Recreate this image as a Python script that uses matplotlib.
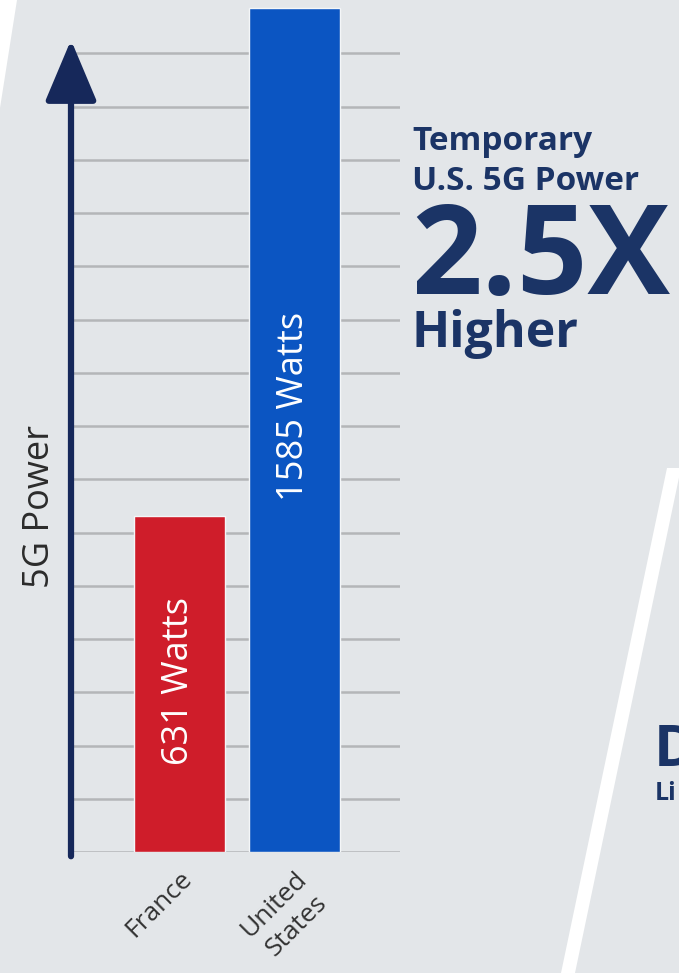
import matplotlib
matplotlib.use("Agg")
import matplotlib.pyplot as plt
from matplotlib.patches import Polygon

countries = ["France", "United\nStates"]
power_watts = [631, 1585]
bar_labels = ["631 Watts", "1585 Watts"]
bar_colors = ["#cf1d2a", "#0b55c2"]
grid_values = list(range(0, 1600, 100))

W, H = 679, 973
bg = "#e3e6e9"
navy = "#1b3466"

fig = plt.figure(figsize=(W / 100, H / 100), dpi=100)
fig.patch.set_facecolor(bg)

# decorative white stripes in the background
def px(x, y):
    return (x / W, 1 - y / H)

for pts in ([(561, 973), (575, 973), (681, 468), (667, 468)],
            [(0, 0), (17, 0), (0, 108)]):
    fig.patches.append(Polygon([px(*p) for p in pts], closed=True,
                               transform=fig.transFigure, facecolor="white",
                               edgecolor="none", zorder=0))

# axes: left edge at arrow (x=71), bottom at y=852
ax = fig.add_axes([71 / W, (H - 852) / H, (400 - 71) / W, 852 / H])
ax.set_facecolor("none")
ax.set_xlim(-0.94, 1.92)
ax.set_ylim(0, 1600)

x = list(range(len(countries)))
bars = ax.bar(x, power_watts, width=0.79, color=bar_colors,
              edgecolor="#f4f6f8", linewidth=1, zorder=3)

label_pos = [0.51, 0.528]
for b, lab, f in zip(bars, bar_labels, label_pos):
    ax.text(b.get_x() + b.get_width() / 2, b.get_height() * f, lab,
            rotation=90, ha="center", va="center", color="white",
            fontsize=26, family="Open Sans", zorder=4)

ax.set_yticks(grid_values)
ax.set_yticklabels([])
ax.tick_params(axis="y", length=0)
ax.grid(axis="y", color="#b4b6b8", linewidth=1.8, zorder=1)
for s in ax.spines.values():
    s.set_visible(False)

ax.set_xticks(x)
ax.set_xticklabels(countries, rotation=45, ha="right", rotation_mode="anchor",
                   fontsize=19, color="#333333", family="Open Sans",
                   multialignment="center", linespacing=1.35)
ax.tick_params(axis="x", length=0, pad=10)

ax.set_ylabel("5G Power", fontsize=26, color="#2b2b2b", family="Open Sans")
ax.yaxis.set_label_coords(-13 / 329, (852 - 506) / 852)

# axis arrow
ax.annotate("", xy=(0, 1525), xytext=(0, -8),
            xycoords=("axes fraction", "data"),
            arrowprops=dict(arrowstyle="-|>,head_width=1.6,head_length=3.8",
                            color="#16285a", lw=4.5, shrinkA=0, shrinkB=0),
            annotation_clip=False, zorder=5)

# callout text
fig.text(412 / W, 1 - 150 / H, "Temporary", fontsize=24, fontweight="bold",
         color=navy, family="Open Sans")
fig.text(412 / W, 1 - 190 / H, "U.S. 5G Power", fontsize=24, fontweight="bold",
         color=navy, family="Open Sans")
fig.text(411 / W, 1 - 294 / H, "2.5X", fontsize=89, fontweight="bold",
         color=navy, family="Open Sans")
fig.text(412 / W, 1 - 347 / H, "Higher", fontsize=36, fontweight="bold",
         color=navy, family="Open Sans")
fig.text(654 / W, 1 - 766 / H, "D", fontsize=42, fontweight="bold",
         color=navy, family="Open Sans")
fig.text(655 / W, 1 - 800 / H, "Li", fontsize=18, fontweight="bold",
         color=navy, family="Open Sans")

fig.savefig("out.png", dpi=100, facecolor=bg)
